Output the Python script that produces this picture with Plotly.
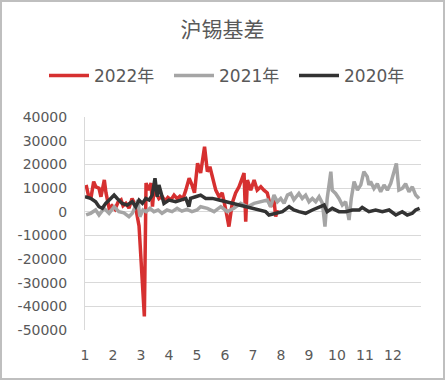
import plotly.graph_objects as go

# ---- data (x in month units, y = basis) ----
x_2022 = [1.04, 1.12, 1.21, 1.31, 1.39, 1.50, 1.57, 1.69, 1.75, 1.86, 1.96, 2.07, 2.18, 2.29, 2.36,
          2.46, 2.57, 2.68, 2.79, 2.93, 3.12, 3.18, 3.27, 3.36, 3.41, 3.46, 3.54, 3.64, 3.75, 3.86,
          3.96, 4.07, 4.18, 4.29, 4.39, 4.50, 4.60, 4.72, 4.82, 4.91, 5.02, 5.13, 5.27, 5.37, 5.46,
          5.55, 5.67, 5.79, 5.90, 6.03, 6.14, 6.26, 6.38, 6.50, 6.68, 6.74, 6.80, 6.92, 7.04, 7.15,
          7.28, 7.39, 7.51, 7.63, 7.75, 7.81, 7.87]
y_2022 = [11300, 7000, 5600, 12700, 10500, 9900, 6300, 13400, 7900, 1500, 2500, 1000, 4000, 5000, 2500,
          3500, 1500, 5500, 3000, -6000, -44300, 12100, 9100, 12100, 2100, 9000, 7900, 5500, 6500, 4500,
          6000, 5000, 7000, 5500, 6500, 5500, 9100, 14100, 11300, 8000, 20500, 16300, 27400, 16900, 19000,
          14800, 9100, 6300, 7900, 700, -6300, 3700, 7900, 10500, 16300, -4200, 13400, 9100, 13400, 9100,
          10500, 9100, 7900, 2100, 4900, -2100, 700]

x_2021 = [1.04, 1.20, 1.38, 1.50, 1.68, 1.86, 2.04, 2.21, 2.39, 2.57, 2.69, 2.81, 2.89, 2.96, 3.07,
          3.18, 3.32, 3.46, 3.61, 3.75, 3.93, 4.11, 4.29, 4.46, 4.64, 4.82, 5.00, 5.13, 5.37, 5.61,
          5.85, 6.08, 6.32, 6.56, 6.80, 7.04, 7.28, 7.51, 7.63, 7.75, 7.87, 7.99, 8.11, 8.23, 8.35,
          8.46, 8.64, 8.76, 8.88, 9.00, 9.12, 9.24, 9.36, 9.48, 9.57, 9.65, 9.78, 9.83, 9.95, 10.07,
          10.19, 10.31, 10.43, 10.51, 10.61, 10.73, 10.85, 10.96, 11.08, 11.14, 11.20, 11.32, 11.44,
          11.56, 11.68, 11.80, 11.92, 12.12, 12.21, 12.33, 12.45, 12.57, 12.69, 12.81, 12.93]
y_2021 = [-1400, -700, 700, -1400, 1400, -700, 2100, 0, -500, -2100, -700, 2800, 4900, -2100, 700,
          0, 1400, 0, 700, -700, 700, 0, 1400, 200, 1000, 0, 700, 2100, 1400, 0,
          2100, 0, 1400, 3500, 2100, 3500, 4200, 4900, 2100, 7000, 4200, 5600, 3500, 7000, 7700,
          5000, 7700, 5600, 7000, 4200, 5600, 4200, 6300, 3500, -6300, 5600, 16900, 9100, 7700, 5600,
          2800, 4200, -3500, 5600, 12700, 9100, 11300, 16900, 14800, 11300, 12700, 9800, 11800,
          8400, 11300, 9100, 12000, 20400, 9100, 9800, 11800, 8400, 10500, 7000, 5600]

x_2020 = [1.00, 1.20, 1.38, 1.50, 1.62, 1.74, 1.92, 2.04, 2.15, 2.33, 2.51, 2.69, 2.81, 2.93, 3.05,
          3.17, 3.29, 3.40, 3.50, 3.58, 3.64, 3.74, 3.82, 4.00, 4.24, 4.42, 4.60, 4.71, 4.77, 4.95,
          5.13, 5.31, 5.55, 5.79, 6.03, 6.26, 6.50, 6.74, 6.98, 7.21, 7.45, 7.57, 7.81, 8.05, 8.29,
          8.46, 8.64, 8.88, 9.12, 9.36, 9.54, 9.65, 9.83, 10.07, 10.31, 10.55, 10.79, 10.90, 11.14,
          11.38, 11.62, 11.86, 12.10, 12.33, 12.51, 12.69, 12.81, 12.95]
y_2020 = [6300, 5600, 4200, 2100, 1400, 3500, 5600, 7000, 5600, 3500, 2800, 4200, 2100, 4900, 3500,
          5600, 4900, 7000, 14100, 6300, 11300, 7000, 3500, 4900, 4200, 4900, 5600, 2100, 5600, 6300,
          7000, 5600, 5600, 4900, 4200, 3500, 2800, 2100, 1400, 700, 0, -1400, -700, 0, 2100,
          700, 0, -700, 700, 2100, 2800, 0, 1400, 0, 0, 700, 700, 1800, 0,
          700, 0, 700, -1400, 0, -1400, -700, 700, 1400]

series_names = ["2022年", "2021年", "2020年"]
series_colors = ["#D63030", "#A5A5A5", "#333333"]
month_ticks = list(range(1, 13))
y_ticks = list(range(-50000, 40001, 10000))

FONT = "DejaVu Sans, Noto Sans CJK SC, sans-serif"
TXT = "#595959"

fig = go.Figure()
for name, xs, ys, col in zip(series_names, [x_2022, x_2021, x_2020], [y_2022, y_2021, y_2020], series_colors):
    fig.add_trace(go.Scatter(x=xs, y=ys, mode="lines", name=name,
                             line=dict(color=col, width=3.5)))

pw, ph = 336, 213
ml, mr, mt, mb = 85, 24, 117, 50
fig.update_layout(
    width=445, height=380,
    margin=dict(l=ml, r=mr, t=mt, b=mb, autoexpand=False),
    paper_bgcolor="white", plot_bgcolor="white",
    title=dict(text="沪锡基差", x=0.5, xref="container", xanchor="center",
               y=1 - 30 / 380, yref="container", yanchor="middle",
               font=dict(family="Noto Sans CJK SC, sans-serif", size=21, color=TXT)),
    legend=dict(orientation="h", x=(44 - ml) / pw, xref="paper", xanchor="left",
                y=1 + (mt - 76) / ph, yref="paper", yanchor="middle",
                font=dict(family=FONT, size=17, color=TXT), itemwidth=40,
                entrywidth=70, entrywidthmode="pixels",
                bgcolor="rgba(0,0,0,0)"),
    showlegend=True,
    xaxis=dict(range=[1, 13], tickvals=month_ticks, ticktext=[str(m) for m in month_ticks],
               showgrid=False, zeroline=False, showline=False, ticks="",
               ticklabelstandoff=15,
               tickfont=dict(family=FONT, size=14, color=TXT)),
    yaxis=dict(range=[-50000, 40000], tickvals=y_ticks, ticktext=[str(v) for v in y_ticks],
               showgrid=True, gridcolor="#D9D9D9", gridwidth=1, zeroline=False,
               showline=True, linecolor="#D9D9D9", linewidth=1, ticks="",
               ticklabelstandoff=14,
               tickfont=dict(family=FONT, size=14, color=TXT)),
    shapes=[dict(type="rect", xref="paper", yref="paper",
                 x0=-(ml - 1) / pw, x1=1 + (mr - 1) / pw,
                 y0=-(mb - 1) / ph, y1=1 + (mt - 1) / ph,
                 line=dict(color="#BFBFBF", width=2), fillcolor="rgba(0,0,0,0)", layer="above")],
)

fig.write_html("out.html", config={"displayModeBar": False},
               post_script="document.body.style.margin='0';document.body.style.padding='0';")
